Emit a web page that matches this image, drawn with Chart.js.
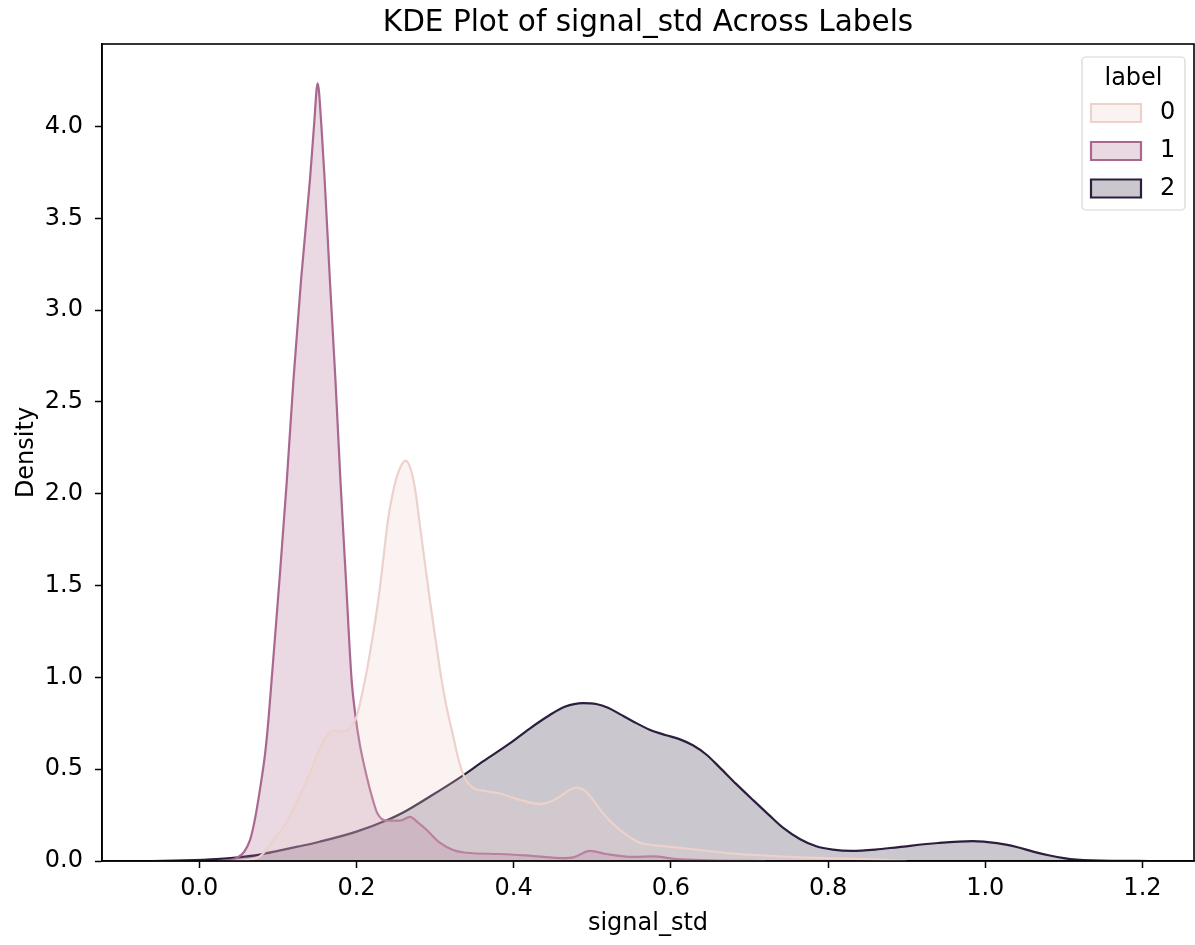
<!DOCTYPE html>
<html>
<head>
<meta charset="utf-8">
<title>KDE Plot of signal_std Across Labels</title>
<script src="https://cdn.jsdelivr.net/npm/chart.js@4.4.1/dist/chart.umd.min.js"></script>
<style>
  html, body { margin: 0; padding: 0; background: #fff; }
  #wrap { width: 1195px; height: 945px; }
</style>
</head>
<body>
<div id="wrap"><canvas id="kdeChart" width="1195" height="945"></canvas></div>
<script>
// === Data ===
const hueLabels = ["0", "1", "2"];

const xTicks = [0.0, 0.2, 0.4, 0.6, 0.8, 1.0, 1.2];
const yTicks = [0.0, 0.5, 1.0, 1.5, 2.0, 2.5, 3.0, 3.5, 4.0];

// label 0 (light peach)
const label0X = [0.04, 0.06, 0.077, 0.094, 0.115, 0.128, 0.141, 0.152, 0.162, 0.172, 0.18, 0.1875,
  0.194, 0.2, 0.2108, 0.219, 0.2277, 0.234, 0.24, 0.246, 0.2535, 0.2625, 0.27, 0.2755, 0.2798,
  0.2865, 0.2934, 0.3008, 0.3083, 0.315, 0.323, 0.33, 0.338, 0.348, 0.365, 0.38, 0.395, 0.415,
  0.433, 0.448, 0.46, 0.472, 0.481, 0.49, 0.5, 0.51, 0.522, 0.535, 0.548, 0.56, 0.575, 0.594,
  0.637, 0.68, 0.72, 0.764, 0.85, 0.9];
const label0Y = [0, 0.005, 0.025, 0.11, 0.24, 0.36, 0.48, 0.60, 0.68, 0.71, 0.705, 0.71,
  0.74, 0.785, 0.985, 1.18, 1.42, 1.64, 1.856, 2.0, 2.12, 2.18, 2.12, 2.0, 1.856,
  1.64, 1.42, 1.2, 0.985, 0.83, 0.68, 0.55, 0.45, 0.40, 0.38, 0.37, 0.35, 0.325,
  0.31, 0.325, 0.355, 0.39, 0.40, 0.385, 0.34, 0.28, 0.22, 0.17, 0.13, 0.10, 0.088, 0.08,
  0.06, 0.04, 0.03, 0.02, 0.01, 0];

// label 1 (magenta)
const label1X = [0.023, 0.035, 0.0476, 0.057, 0.0645, 0.069, 0.073, 0.079, 0.0836, 0.088, 0.092,
  0.102, 0.111, 0.1198, 0.1294, 0.1408, 0.1459, 0.1506, 0.1554, 0.1595, 0.1662, 0.1732, 0.1796,
  0.1866, 0.1938, 0.199, 0.204, 0.213, 0.221, 0.2265, 0.238, 0.2555, 0.268, 0.278, 0.289, 0.306,
  0.323, 0.34, 0.383, 0.425, 0.463, 0.476, 0.497, 0.518, 0.552, 0.578, 0.607, 0.65, 0.72];
const label1Y = [0, 0.003, 0.016, 0.05, 0.114, 0.19, 0.28, 0.44, 0.58, 0.77, 0.985,
  1.53, 2.05, 2.62, 3.16, 3.71, 4.0, 4.235, 4.0, 3.71, 3.16, 2.62, 2.07,
  1.53, 0.985, 0.78, 0.64, 0.46, 0.33, 0.26, 0.22, 0.22, 0.24, 0.21, 0.17, 0.10,
  0.06, 0.045, 0.038, 0.027, 0.016, 0.02, 0.055, 0.038, 0.022, 0.025, 0.01, 0.004, 0];

// label 2 (dark purple)
const label2X = [-0.06, -0.02, 0.022, 0.05, 0.077, 0.1, 0.125, 0.153, 0.2, 0.243, 0.26, 0.295,
  0.33, 0.362, 0.395, 0.42, 0.446, 0.465, 0.488, 0.505, 0.52, 0.535, 0.552, 0.573, 0.594, 0.61,
  0.628, 0.645, 0.662, 0.683, 0.705, 0.725, 0.743, 0.764, 0.785, 0.806, 0.83, 0.86, 0.89, 0.94,
  0.984, 1.015, 1.04, 1.062, 1.082, 1.1, 1.116, 1.16, 1.21];
const label2Y = [0, 0.003, 0.01, 0.02, 0.035, 0.055, 0.078, 0.105, 0.16, 0.23, 0.265, 0.355,
  0.45, 0.545, 0.64, 0.72, 0.795, 0.84, 0.86, 0.855, 0.835, 0.80, 0.76, 0.715, 0.685, 0.665,
  0.63, 0.58, 0.51, 0.42, 0.33, 0.25, 0.18, 0.12, 0.08, 0.062, 0.055, 0.062, 0.076, 0.098,
  0.108, 0.097, 0.076, 0.05, 0.03, 0.016, 0.008, 0.001, 0];

const titleText = "KDE Plot of signal_std Across Labels";

// === Styling ===
const FONT = "'DejaVu Sans', 'Liberation Sans', sans-serif";
const lineColors = ["#edd1cb", "#aa678f", "#2d1e3e"];
const fillColors = ["rgba(237,209,203,0.25)", "rgba(170,103,143,0.25)", "rgba(45,30,62,0.25)"];

const seriesX = [label0X, label1X, label2X];
const seriesY = [label0Y, label1Y, label2Y];

function toPoints(xs, ys) {
  return xs.map((x, i) => ({ x: x, y: ys[i] }));
}

// Frame: four spines drawn on top of the filled curves
const framePlugin = {
  id: "frame",
  afterDatasetsDraw(chart) {
    const { ctx, chartArea: a } = chart;
    ctx.save();
    ctx.strokeStyle = "#000";
    ctx.lineWidth = 1.6;
    ctx.strokeRect(a.left, a.top, a.right - a.left, a.bottom - a.top);
    ctx.restore();
  },
};

// Title centred over the axes (matplotlib places it over the plot area)
const axesTitlePlugin = {
  id: "axesTitle",
  afterDraw(chart) {
    const { ctx, chartArea: a } = chart;
    ctx.save();
    ctx.fillStyle = "#000";
    ctx.font = "29.5px " + FONT;
    ctx.textAlign = "center";
    ctx.textBaseline = "alphabetic";
    ctx.fillText(titleText, (a.left + a.right) / 2, 31);
    ctx.restore();
  },
};

// Legend box in the top-right corner, matplotlib style
const legendPlugin = {
  id: "kdeLegend",
  afterDraw(chart) {
    const ctx = chart.ctx;
    const box = { x: 1082, y: 57, w: 103, h: 153, r: 4 };
    ctx.save();
    ctx.beginPath();
    ctx.roundRect(box.x, box.y, box.w, box.h, box.r);
    ctx.fillStyle = "rgba(255,255,255,0.8)";
    ctx.fill();
    ctx.strokeStyle = "#d6d6d6";
    ctx.lineWidth = 1.2;
    ctx.stroke();

    ctx.fillStyle = "#000";
    ctx.font = "24px " + FONT;
    ctx.textAlign = "center";
    ctx.textBaseline = "middle";
    ctx.fillText("label", box.x + box.w / 2, 79);

    const rowY = [113, 151, 188.5];
    hueLabels.forEach((lab, i) => {
      ctx.beginPath();
      ctx.rect(1091, rowY[i] - 9, 50, 18);
      ctx.fillStyle = "#fff";
      ctx.fill();
      ctx.fillStyle = fillColors[i];
      ctx.fill();
      ctx.strokeStyle = lineColors[i];
      ctx.lineWidth = 2.2;
      ctx.stroke();
      ctx.fillStyle = "#000";
      ctx.textAlign = "left";
      ctx.fillText(lab, 1160, rowY[i]);
    });
    ctx.restore();
  },
};

const datasets = hueLabels.map((lab, i) => ({
  label: lab,
  data: toPoints(seriesX[i], seriesY[i]),
  borderColor: lineColors[i],
  backgroundColor: fillColors[i],
  borderWidth: 2.2,
  fill: "origin",
  pointRadius: 0,
  tension: 0.4,
  cubicInterpolationMode: "monotone",
}));

const ctx = document.getElementById("kdeChart").getContext("2d");

new Chart(ctx, {
  type: "line",
  data: { datasets: datasets },
  options: {
    responsive: false,
    animation: false,
    devicePixelRatio: 1,
    layout: { padding: { left: 0, right: 1, top: 44, bottom: 0 } },
    plugins: {
      legend: { display: false },
      tooltip: { enabled: false },
      title: { display: false },
    },
    scales: {
      x: {
        type: "linear",
        min: -0.1238,
        max: 1.2656,
        afterBuildTicks: (s) => { s.ticks = xTicks.map((v) => ({ value: v })); },
        afterFit: (s) => { s.height = 84; },
        grid: { drawOnChartArea: false, drawTicks: true, tickLength: 7, tickColor: "#000", tickWidth: 1.5 },
        border: { display: true, color: "#000", width: 1.6 },
        ticks: {
          color: "#000",
          font: { family: FONT, size: 24 },
          padding: 6,
          maxRotation: 0,
          autoSkip: false,
          callback: (v) => Number(v).toFixed(1),
        },
        title: {
          display: true,
          text: "signal_std",
          color: "#000",
          font: { family: FONT, size: 24 },
          padding: { top: 0, bottom: 6.6 },
        },
      },
      y: {
        type: "linear",
        min: 0,
        max: 4.449,
        afterBuildTicks: (s) => { s.ticks = yTicks.map((v) => ({ value: v })); },
        afterFit: (s) => { s.width = 102; },
        grid: { drawOnChartArea: false, drawTicks: true, tickLength: 7, tickColor: "#000", tickWidth: 1.5 },
        border: { display: true, color: "#000", width: 1.6 },
        ticks: {
          color: "#000",
          font: { family: FONT, size: 24 },
          padding: 12,
          autoSkip: false,
          callback: (v) => Number(v).toFixed(1),
        },
        title: {
          display: true,
          text: "Density",
          color: "#000",
          font: { family: FONT, size: 24 },
          padding: { top: 12.6, bottom: 0 },
        },
      },
    },
  },
  plugins: [framePlugin, axesTitlePlugin, legendPlugin],
});
</script>
</body>
</html>
